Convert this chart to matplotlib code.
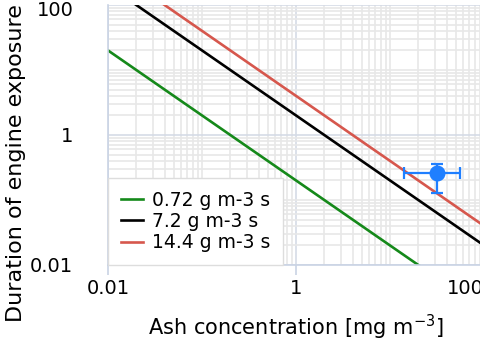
import matplotlib
matplotlib.use("Agg")
import matplotlib.pyplot as plt
import matplotlib.transforms as mtransforms
from matplotlib.ticker import FixedLocator, LogLocator, NullFormatter

# Data (hours vs mg m-3)
conc = [0.01, 100]
green_dur = [20, 0.002]     # 0.72 g m-3 s
black_dur = [200, 0.02]     # 7.2 g m-3 s
red_dur = [400, 0.04]       # 14.4 g m-3 s
labels = ['0.72 g m-3 s', '7.2 g m-3 s', '14.4 g m-3 s']

# measured point with error bars
pt_x = [31.6]
pt_y = [0.26]
pt_xerr = [[17.4], [24.0]]
pt_yerr = [[0.13], [0.10]]

x_ticks = [0.01, 1, 100]
x_ticklabels = ['0.01', '1', '100']
y_ticks = [0.01, 1, 100]
y_ticklabels = ['0.01', '1', '100']

axis_col = '#c9d3e4'

fig = plt.figure(figsize=(4.81, 3.41), dpi=100)
ax = fig.add_axes([0.2245, 0.2229, 0.7817, 0.7625])
ax.set_xscale('log')
ax.set_yscale('log')
ax.set_xlim(0.01, 100)
ax.set_ylim(0.01, 100)

# grid
ax.xaxis.set_major_locator(FixedLocator(x_ticks))
ax.yaxis.set_major_locator(FixedLocator(y_ticks))
ax.xaxis.set_minor_locator(LogLocator(base=10, subs=range(1, 10), numticks=50))
ax.yaxis.set_minor_locator(LogLocator(base=10, subs=range(1, 10), numticks=50))
ax.xaxis.set_minor_formatter(NullFormatter())
ax.yaxis.set_minor_formatter(NullFormatter())
ax.grid(True, which='minor', color='#e8e8e8', linewidth=1.2)
ax.grid(True, which='major', color='#d5dbe6', linewidth=1.2)
ax.set_axisbelow(True)

ax.plot(conc, green_dur, color='#15891a', lw=1.9, label=labels[0])
ax.plot(conc, black_dur, color='black', lw=1.9, label=labels[1])
ax.plot(conc, red_dur, color='#d6574d', lw=1.9, label=labels[2])

ax.errorbar(pt_x, pt_y, xerr=pt_xerr, yerr=pt_yerr, fmt='o', color='#1f7fff',
            markersize=10.5, elinewidth=1.6, capsize=4, capthick=1.6)

ax.set_xticks(x_ticks)
ax.set_xticklabels(x_ticklabels)
ax.set_yticks(y_ticks)
ax.set_yticklabels(y_ticklabels)

ax.tick_params(axis='x', which='major', length=7, width=1.2, color=axis_col,
               labelsize=14, pad=3)
ax.tick_params(axis='y', which='major', length=0, labelsize=14, pad=25)
ax.tick_params(which='minor', length=0)

# edge labels pulled inside like the original
ax.get_xticklabels()[-1].set_horizontalalignment('right')
top_lbl = ax.get_yticklabels()[-1]
top_lbl.set_transform(top_lbl.get_transform() +
                      mtransforms.ScaledTranslation(0, -0.04, fig.dpi_scale_trans))

for s in ['top', 'right']:
    ax.spines[s].set_visible(False)
for s in ['left', 'bottom']:
    ax.spines[s].set_color(axis_col)
    ax.spines[s].set_linewidth(1.2)

ax.set_xlabel('Ash concentration [mg m$^{-3}$]', fontsize=15, labelpad=11)
fig.text(16 / 481, 1 - 322 / 341, 'Duration of engine exposure', rotation=90,
         fontsize=16, ha='center', va='bottom')

leg = ax.legend(loc='lower left', borderaxespad=0, fontsize=13.5, fancybox=False,
                framealpha=1, edgecolor='#dddddd', handlelength=1.2,
                handletextpad=0.45, labelspacing=0.12, borderpad=0.68)
leg.get_frame().set_linewidth(1.0)

fig.savefig('out.png', dpi=100)
